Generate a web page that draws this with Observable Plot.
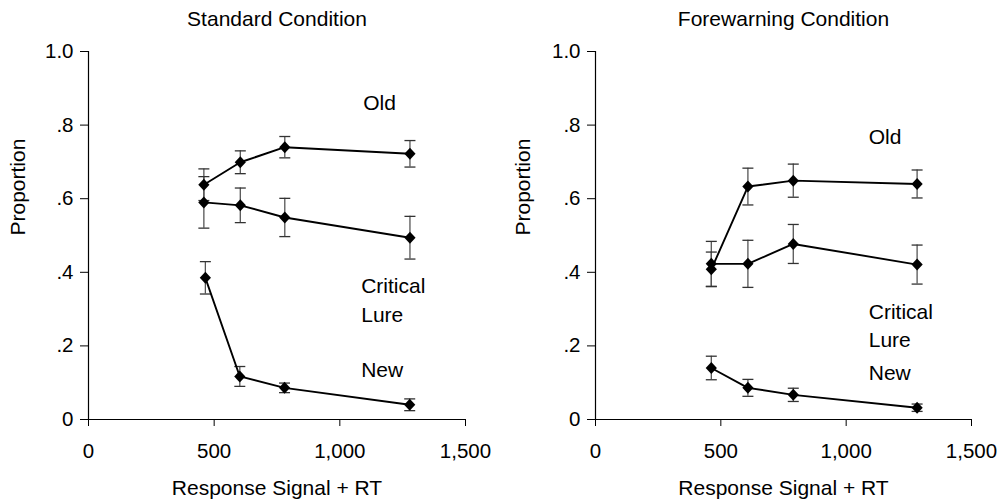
<!DOCTYPE html>
<html><head><meta charset="utf-8">
<script src="https://cdn.jsdelivr.net/npm/d3@7"></script>
<script src="https://cdn.jsdelivr.net/npm/@observablehq/plot@0.6"></script>
<style>
body{margin:0;background:#fff}
#wrap{display:flex;width:1001px;height:501px;background:#fff}
</style>
</head><body><div id="wrap"></div>
<script>
// ---- text & ticks ----
const panelTitles = ["Standard Condition", "Forewarning Condition"];
const xTicks = [0, 500, 1000, 1500];
const yTicks = [0, 0.2, 0.4, 0.6, 0.8, 1.0];
const yTickLabels = ["0", ".2", ".4", ".6", ".8", "1.0"];
const xLabel = "Response Signal + RT";
const yLabel = "Proportion";

// ---- Standard condition ----
const stdOldX = [459, 604, 781, 1279];
const stdOldY = [0.638, 0.699, 0.740, 0.722];
const stdOldErr = [0.043, 0.031, 0.029, 0.036];
const stdLureX = [459, 604, 781, 1279];
const stdLureY = [0.590, 0.582, 0.549, 0.494];
const stdLureErr = [0.070, 0.047, 0.052, 0.058];
const stdNewX = [465, 602, 780, 1278];
const stdNewY = [0.385, 0.117, 0.086, 0.040];
const stdNewErr = [0.044, 0.027, 0.013, 0.016];
const stdLabelText = ["Old", "Critical", "Lure", "New"];
const stdLabelX = [1093, 1085, 1085, 1085];
const stdLabelY = [0.858, 0.361, 0.283, 0.133];

// ---- Forewarning condition ----
const fwOldX = [462, 608, 789, 1283];
const fwOldY = [0.408, 0.633, 0.649, 0.640];
const fwOldErr = [0.047, 0.050, 0.045, 0.038];
const fwLureX = [462, 608, 789, 1283];
const fwLureY = [0.423, 0.423, 0.477, 0.421];
const fwLureErr = [0.061, 0.064, 0.053, 0.053];
const fwNewX = [462, 608, 789, 1283];
const fwNewY = [0.140, 0.086, 0.067, 0.032];
const fwNewErr = [0.032, 0.023, 0.018, 0.010];
const fwLabelText = ["Old", "Critical", "Lure", "New"];
const fwLabelX = [1090, 1090, 1090, 1090];
const fwLabelY = [0.767, 0.292, 0.215, 0.126];

function rows(name, xs, ys, errs) {
  return xs.map((x, i) => ({series: name, x, y: ys[i], lo: ys[i] - errs[i], hi: ys[i] + errs[i]}));
}

const diamondSym = {
  draw(ctx) { ctx.moveTo(0, -6); ctx.lineTo(5.6, 0); ctx.lineTo(0, 6); ctx.lineTo(-5.6, 0); ctx.closePath(); }
};
const capSym = {
  draw(ctx) { ctx.moveTo(-5.5, 0); ctx.lineTo(5.5, 0); }
};

function panel(title, series, labelText, labelX, labelY, width, mL, mR, yLabDx) {
  const data = series.flat();
  const labels = labelText.map((t, i) => ({t, x: labelX[i], y: labelY[i]}));
  return Plot.plot({
    width, height: 501,
    marginLeft: mL, marginRight: mR, marginTop: 51, marginBottom: 82,
    style: {fontFamily: "'Liberation Sans', Arial, sans-serif", fontSize: "20.5px", color: "black", background: "white", overflow: "visible"},
    x: {domain: [0, 1500]},
    y: {domain: [0, 1]},
    marks: [
      Plot.axisX({ticks: xTicks, tickFormat: d3.format(","), tickSize: 7, tickPadding: 17, label: null}),
      Plot.axisY({ticks: yTicks, tickFormat: (d, i) => yTickLabels[i], tickSize: 8, tickPadding: 7, label: null}),
      Plot.ruleX([0], {y1: 0, y2: 1, stroke: "black", strokeWidth: 1.2}),
      Plot.ruleY([0], {x1: 0, x2: 1500, stroke: "black", strokeWidth: 1.2}),
      Plot.ruleX(data, {x: "x", y1: "lo", y2: "hi", stroke: "#555", strokeWidth: 1.3}),
      Plot.dot(data, {x: "x", y: "lo", symbol: capSym, r: 1, fill: "none", stroke: "#333", strokeWidth: 1.3}),
      Plot.dot(data, {x: "x", y: "hi", symbol: capSym, r: 1, fill: "none", stroke: "#333", strokeWidth: 1.3}),
      Plot.line(data, {x: "x", y: "y", z: "series", stroke: "black", strokeWidth: 1.9}),
      Plot.dot(data, {x: "x", y: "y", symbol: diamondSym, r: 1, fill: "black", stroke: "none"}),
      Plot.text(labels, {x: "x", y: "y", text: "t", textAnchor: "start", lineAnchor: "middle", fontSize: 21, fill: "black"}),
      Plot.text([title], {frameAnchor: "top", dy: -32.5, lineAnchor: "middle", fontSize: 21, fill: "black"}),
      Plot.text([xLabel], {frameAnchor: "bottom", dy: 69, lineAnchor: "middle", fontSize: 21, fill: "black"}),
      Plot.text([yLabel], {frameAnchor: "left", dx: yLabDx, rotate: -90, lineAnchor: "middle", fontSize: 21, fill: "black"})
    ]
  });
}

const wrap = document.getElementById("wrap");
wrap.append(panel(panelTitles[0],
  [rows("Old", stdOldX, stdOldY, stdOldErr), rows("Critical Lure", stdLureX, stdLureY, stdLureErr), rows("New", stdNewX, stdNewY, stdNewErr)],
  stdLabelText, stdLabelX, stdLabelY, 500, 88, 35, -70.5));
wrap.append(panel(panelTitles[1],
  [rows("Old", fwOldX, fwOldY, fwOldErr), rows("Critical Lure", fwLureX, fwLureY, fwLureErr), rows("New", fwNewX, fwNewY, fwNewErr)],
  fwLabelText, fwLabelX, fwLabelY, 501, 95, 30, -72));
</script>
</body></html>
